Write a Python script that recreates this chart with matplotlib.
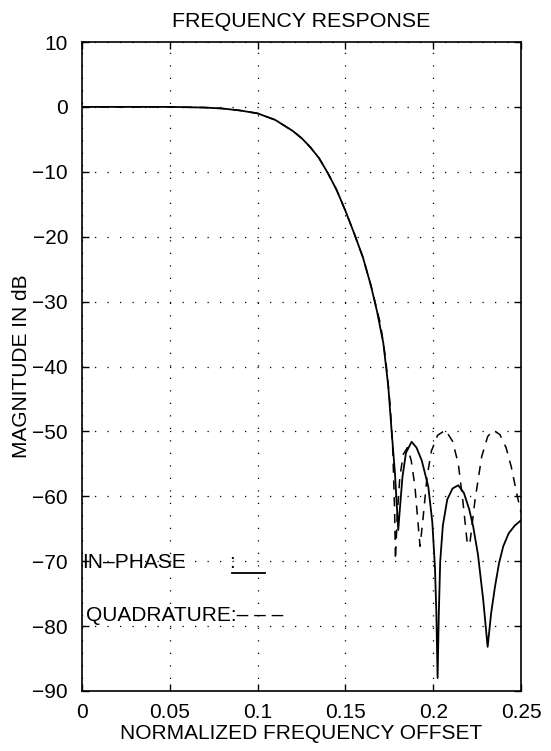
import matplotlib
matplotlib.use("Agg")
import matplotlib.pyplot as plt

plt.rcParams['font.family'] = ['Liberation Sans', 'DejaVu Sans']

# In-phase response (solid)
inphase_f = [0.0, 0.05, 0.07, 0.08, 0.09, 0.1, 0.11, 0.12, 0.125, 0.13, 0.135, 0.14,
             0.145, 0.15, 0.155, 0.16, 0.1645, 0.168, 0.1716, 0.1744, 0.1764, 0.1782,
             0.1801, 0.181, 0.1825, 0.1845, 0.1877, 0.1905, 0.1935, 0.1972, 0.1995,
             0.201, 0.2018, 0.2025, 0.2032, 0.204, 0.2055, 0.208, 0.211, 0.2143,
             0.2175, 0.2205, 0.2228, 0.2255, 0.2285, 0.231, 0.233, 0.2352, 0.2375,
             0.2399, 0.243, 0.2465, 0.25]
inphase_db = [0.0, 0.0, -0.1, -0.25, -0.55, -1.0, -2.0, -3.7, -4.8, -6.2, -7.9, -10.2,
              -12.8, -16.0, -19.5, -23.2, -27.5, -31.5, -36.4, -43.0, -50.2, -56.4,
              -65.2, -62.0, -57.0, -53.3, -51.6, -52.5, -54.5, -58.5, -64.0,
              -71.0, -78.0, -88.0, -78.0, -70.0, -64.5, -60.5, -58.8, -58.3,
              -59.5, -62.0, -64.7, -69.0, -76.0, -83.2, -78.0, -73.9, -70.3,
              -67.7, -65.7, -64.5, -63.7]

# Quadrature response (dashed)
quad_f = [0.0, 0.05, 0.07, 0.08, 0.09, 0.1, 0.11, 0.12, 0.125, 0.13, 0.135, 0.14,
          0.145, 0.15, 0.155, 0.16, 0.165, 0.17, 0.173, 0.1755, 0.177, 0.178, 0.1785,
          0.1795, 0.181, 0.183, 0.1853, 0.1875, 0.1896, 0.191, 0.1925, 0.194, 0.1965,
          0.199, 0.2025, 0.207, 0.211, 0.2143, 0.217, 0.2195, 0.221, 0.2238, 0.2276,
          0.231, 0.2342, 0.238, 0.2415, 0.2445, 0.2475, 0.25]
quad_db = [0.0, 0.0, -0.1, -0.25, -0.55, -1.0, -2.0, -3.7, -4.8, -6.2, -7.9, -10.2,
           -12.8, -16.0, -19.5, -23.2, -28.0, -33.5, -39.0, -46.0, -53.0, -62.0, -69.8,
           -63.0, -57.0, -53.5, -52.5, -54.5, -58.5, -63.0, -67.7, -64.0, -57.0,
           -53.0, -50.6, -49.8, -51.5, -55.0, -61.0, -67.5, -67.0, -60.6, -53.9,
           -50.8, -49.8, -50.5, -52.5, -55.5, -59.5, -62.5]

x_ticks = [0, 0.05, 0.1, 0.15, 0.2, 0.25]
x_ticklabels = ['0', '0.05', '0.1', '0.15', '0.2', '0.25']
y_ticks = [10, 0, -10, -20, -30, -40, -50, -60, -70, -80, -90]
y_ticklabels = ['10', '0', '\u221210', '\u221220', '\u221230', '\u221240', '\u221250',
                '\u221260', '\u221270', '\u221280', '\u221290']

FS = 15

fig = plt.figure(figsize=(5.51, 7.51), dpi=100)
ax = fig.add_axes([82 / 551, 1 - 691 / 751, (521 - 82) / 551, (691 - 42) / 751])

ax.plot(inphase_f, inphase_db, color='black', linewidth=1.3, solid_joinstyle='round')
ax.plot(quad_f, quad_db, color='black', linewidth=1.1, linestyle=(0, (6, 5)))

ax.set_xlim(0, 0.25)
ax.set_ylim(-90, 10)
ax.set_xticks(x_ticks)
ax.set_xticklabels(x_ticklabels)
ax.set_yticks(y_ticks)
ax.set_yticklabels(y_ticklabels)
ax.tick_params(direction='in', length=5, width=1, top=True, right=True,
               labelsize=FS)
ax.tick_params(axis='x', pad=9)
ax.tick_params(axis='y', pad=10)
ax.grid(True, color='black', linestyle=(0, (1, 9)), linewidth=0.9)
for s in ax.spines.values():
    s.set_linewidth(1.2)

ax.set_title('FREQUENCY RESPONSE', fontsize=15.4, pad=11)
ax.set_xlabel('NORMALIZED FREQUENCY OFFSET', fontsize=FS, labelpad=1)
ax.set_ylabel('MAGNITUDE IN dB', fontsize=FS, labelpad=1)

# legend-style annotations
ax.text(0.0, -71.0, 'IN\u2013PHASE', fontsize=FS, va='baseline', ha='left')
ax.text(0.0835, -71.0, ':', fontsize=FS, va='baseline', ha='left')
ax.plot([0.342, 0.417], [0.182, 0.182], transform=ax.transAxes, color='black',
        linewidth=1.3)
ax.text(0.0025, -79.2, 'QUADRATURE:\u2013 \u2013 \u2013', fontsize=FS,
        va='baseline', ha='left')

fig.savefig('out.png', dpi=100)
